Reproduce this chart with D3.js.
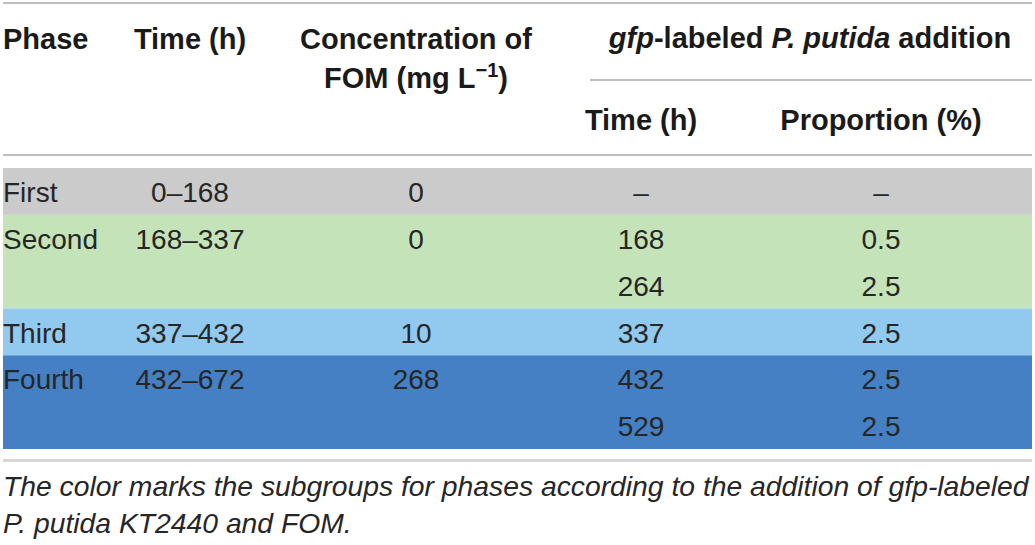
<!DOCTYPE html>
<html>
<head>
<meta charset="utf-8">
<script src="https://cdn.jsdelivr.net/npm/d3@7"></script>
<style>
  body { margin: 0; background: #fff; }
  svg { display: block; font-family: "Liberation Sans", Arial, Helvetica, sans-serif; }
  .hdr { font-weight: bold; font-size: 29px; fill: #1a1a1a; }
  .cell { font-size: 28px; fill: #262626; }
  .caption { font-style: italic; font-size: 28.3px; fill: #262626; }
</style>
</head>
<body>
<div id="table"></div>
<script>

// table values, one entry per phase
var phases = ["First", "Second", "Third", "Fourth"];
var phaseTimes = ["0–168", "168–337", "337–432", "432–672"];
var fomConc = ["0", "0", "10", "268"];
// gfp-labeled P. putida additions per phase (sub rows)
var additionTimes = [["–"], ["168", "264"], ["337"], ["432", "529"]];
var additionProps = [["–"], ["0.5", "2.5"], ["2.5"], ["2.5", "2.5"]];
var phaseColors = ["#cbcbcb", "#c5e3b8", "#92c9ef", "#4480c3"];

var captionLines = [
    "The color marks the subgroups for phases according to the addition of gfp-labeled",
    "P. putida KT2440 and FOM."
];

var width = 1035, height = 545;

var svg = d3.select("#table").append("svg")
    .attr("width", width)
    .attr("height", height);

// build flat list of sub rows
var subRows = [];
phases.forEach(function(p, i) {
    additionTimes[i].forEach(function(t, j) {
        subRows.push({phase: i, sub: j, time: t, prop: additionProps[i][j]});
    });
});

var left = 3, right = 1032;

var y = d3.scaleBand()
    .domain(d3.range(subRows.length))
    .range([168, 449]);

// column anchors
var col = {phase: left, time: 190, fom: 416, addTime: 641, addProp: 881};

// first sub row index of every phase
var firstRow = phases.map(function(p, i) {
    return subRows.findIndex(function(r) { return r.phase == i; });
});

// backgrounds
svg.selectAll(".bg")
    .data(phases)
    .enter().append("rect")
    .attr("class", "bg")
    .attr("x", left)
    .attr("width", right - left)
    .attr("y", function(d, i) { return y(firstRow[i]); })
    .attr("height", function(d, i) { return y.bandwidth() * additionTimes[i].length; })
    .attr("fill", function(d, i) { return phaseColors[i]; });

// rules
function rule(x1, x2, yy, color, w) {
    svg.append("line")
        .attr("x1", x1).attr("x2", x2)
        .attr("y1", yy).attr("y2", yy)
        .attr("stroke", color)
        .attr("stroke-width", w);
}
rule(left, right, 3, "#a8a8a8", 1.5);
rule(590, right, 80, "#a8a8a8", 1.5);
rule(left, right, 155, "#a8a8a8", 1.5);
rule(left, right, 460.5, "#d6d6d6", 3);

// header
var hdr = svg.append("g").attr("class", "hdr");
hdr.append("text").attr("x", col.phase).attr("y", 49).text("Phase");
hdr.append("text").attr("x", col.time).attr("y", 49).attr("text-anchor", "middle").text("Time (h)");
hdr.append("text").attr("x", col.fom).attr("y", 49).attr("text-anchor", "middle").text("Concentration of");
var fomT = hdr.append("text").attr("x", col.fom).attr("y", 88).attr("text-anchor", "middle");
fomT.append("tspan").text("FOM (mg L");
fomT.append("tspan").attr("dy", -11).attr("font-size", "20px").text("−1");
fomT.append("tspan").attr("dy", 11).text(")");

var gfpT = hdr.append("text").attr("x", 810).attr("y", 48).attr("text-anchor", "middle");
gfpT.append("tspan").attr("font-style", "italic").text("gfp");
gfpT.append("tspan").text("-labeled ");
gfpT.append("tspan").attr("font-style", "italic").text("P. putida");
gfpT.append("tspan").text(" addition");

hdr.append("text").attr("x", col.addTime).attr("y", 130).attr("text-anchor", "middle").text("Time (h)");
hdr.append("text").attr("x", col.addProp).attr("y", 130).attr("text-anchor", "middle").text("Proportion (%)");

// phase level cells
var phaseCells = svg.selectAll(".phaseCell")
    .data(phases)
    .enter().append("g")
    .attr("class", "cell phaseCell")
    .attr("transform", function(d, i) { return "translate(0," + (y(firstRow[i]) + 34) + ")"; });

phaseCells.append("text")
    .attr("x", col.phase)
    .text(function(d) { return d; });
phaseCells.append("text")
    .attr("x", col.time)
    .attr("text-anchor", "middle")
    .text(function(d, i) { return phaseTimes[i]; });
phaseCells.append("text")
    .attr("x", col.fom)
    .attr("text-anchor", "middle")
    .text(function(d, i) { return fomConc[i]; });

// addition cells
var subCells = svg.selectAll(".subCell")
    .data(subRows)
    .enter().append("g")
    .attr("class", "cell subCell")
    .attr("transform", function(d, i) { return "translate(0," + (y(i) + 34) + ")"; });

subCells.append("text")
    .attr("x", col.addTime)
    .attr("text-anchor", "middle")
    .text(function(d) { return d.time; });
subCells.append("text")
    .attr("x", col.addProp)
    .attr("text-anchor", "middle")
    .text(function(d) { return d.prop; });

// caption
svg.selectAll(".caption")
    .data(captionLines)
    .enter().append("text")
    .attr("class", "caption")
    .attr("x", left)
    .attr("y", function(d, i) { return 496 + i * 37; })
    .text(function(d) { return d; });

</script>
</body>
</html>
